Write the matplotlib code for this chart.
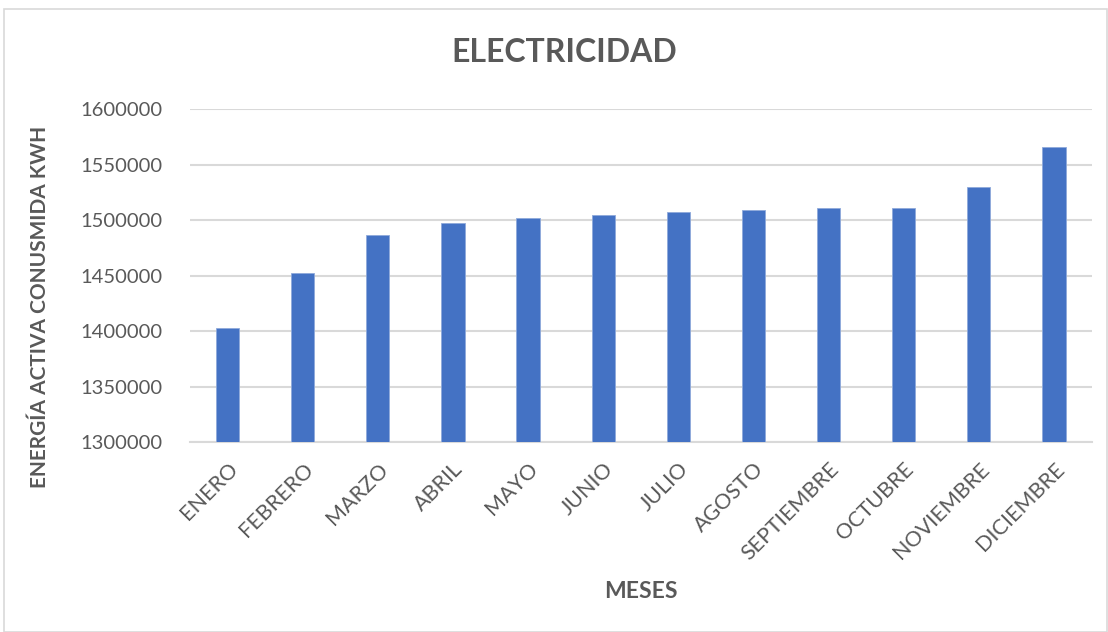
import matplotlib
matplotlib.use("Agg")
import matplotlib.pyplot as plt
from matplotlib.patches import Rectangle

months = ["ENERO", "FEBRERO", "MARZO", "ABRIL", "MAYO", "JUNIO", "JULIO",
          "AGOSTO", "SEPTIEMBRE", "OCTUBRE", "NOVIEMBRE", "DICIEMBRE"]
energy_kwh = [1402900, 1452100, 1486300, 1497400, 1501600, 1504600, 1507000,
              1508800, 1511200, 1510900, 1529800, 1565800]
y_ticks = [1300000, 1350000, 1400000, 1450000, 1500000, 1550000, 1600000]

TXT = "#595959"
BAR = "#4472C4"
GRID = "#D9D9D9"
FONT = "Lato"

W, H = 1108, 632
fig = plt.figure(figsize=(W / 100, H / 100), dpi=100)
fig.patch.set_facecolor("white")

# chart border
fig.add_artist(Rectangle((4 / W, 0.5 / H), (W - 5) / W, (H - 9.5) / H,
                         transform=fig.transFigure, fill=False,
                         edgecolor=GRID, linewidth=1.2))

ax = fig.add_axes([190 / W, 1 - 442.3 / H, (1091.5 - 190) / W, (442.3 - 109) / H])
x = list(range(len(months)))
ax.bar(x, energy_kwh, width=0.31, color=BAR, edgecolor="#8EA9DB",
       linewidth=0.6, zorder=3)
ax.set_xlim(-0.5, len(months) - 0.5)
ax.set_ylim(y_ticks[0], y_ticks[-1])
ax.set_yticks(y_ticks)
ax.set_yticklabels([str(v) for v in y_ticks], fontfamily=FONT, fontsize=14.5, color=TXT)
ax.set_xticks(x)
ax.set_xticklabels(months, rotation=45, ha="right", rotation_mode="anchor",
                   fontfamily=FONT, fontsize=15.5, color=TXT)
ax.tick_params(axis="both", length=0)
ax.tick_params(axis="y", pad=20)
ax.tick_params(axis="x", pad=12)
ax.grid(axis="y", color=GRID, linewidth=1.5, zorder=0)
for s in ["top", "right", "left"]:
    ax.spines[s].set_visible(False)
ax.spines["bottom"].set_color(GRID)
ax.spines["bottom"].set_linewidth(1.5)

fig.text(564 / W, 1 - 53 / H, "ELECTRICIDAD", ha="center", va="center",
         fontfamily=FONT, fontweight="bold", fontsize=23, color=TXT)
fig.text(641 / W, 1 - 591 / H, "MESES", ha="center", va="center",
         fontfamily=FONT, fontweight="bold", fontsize=16.5, color=TXT)
fig.text(40 / W, 1 - 307 / H, "ENERGÍA ACTIVA CONUSMIDA KWH", ha="center",
         va="center", rotation=90, fontfamily=FONT, fontweight="bold",
         fontsize=15, color=TXT)

fig.savefig("out.png", dpi=100)
